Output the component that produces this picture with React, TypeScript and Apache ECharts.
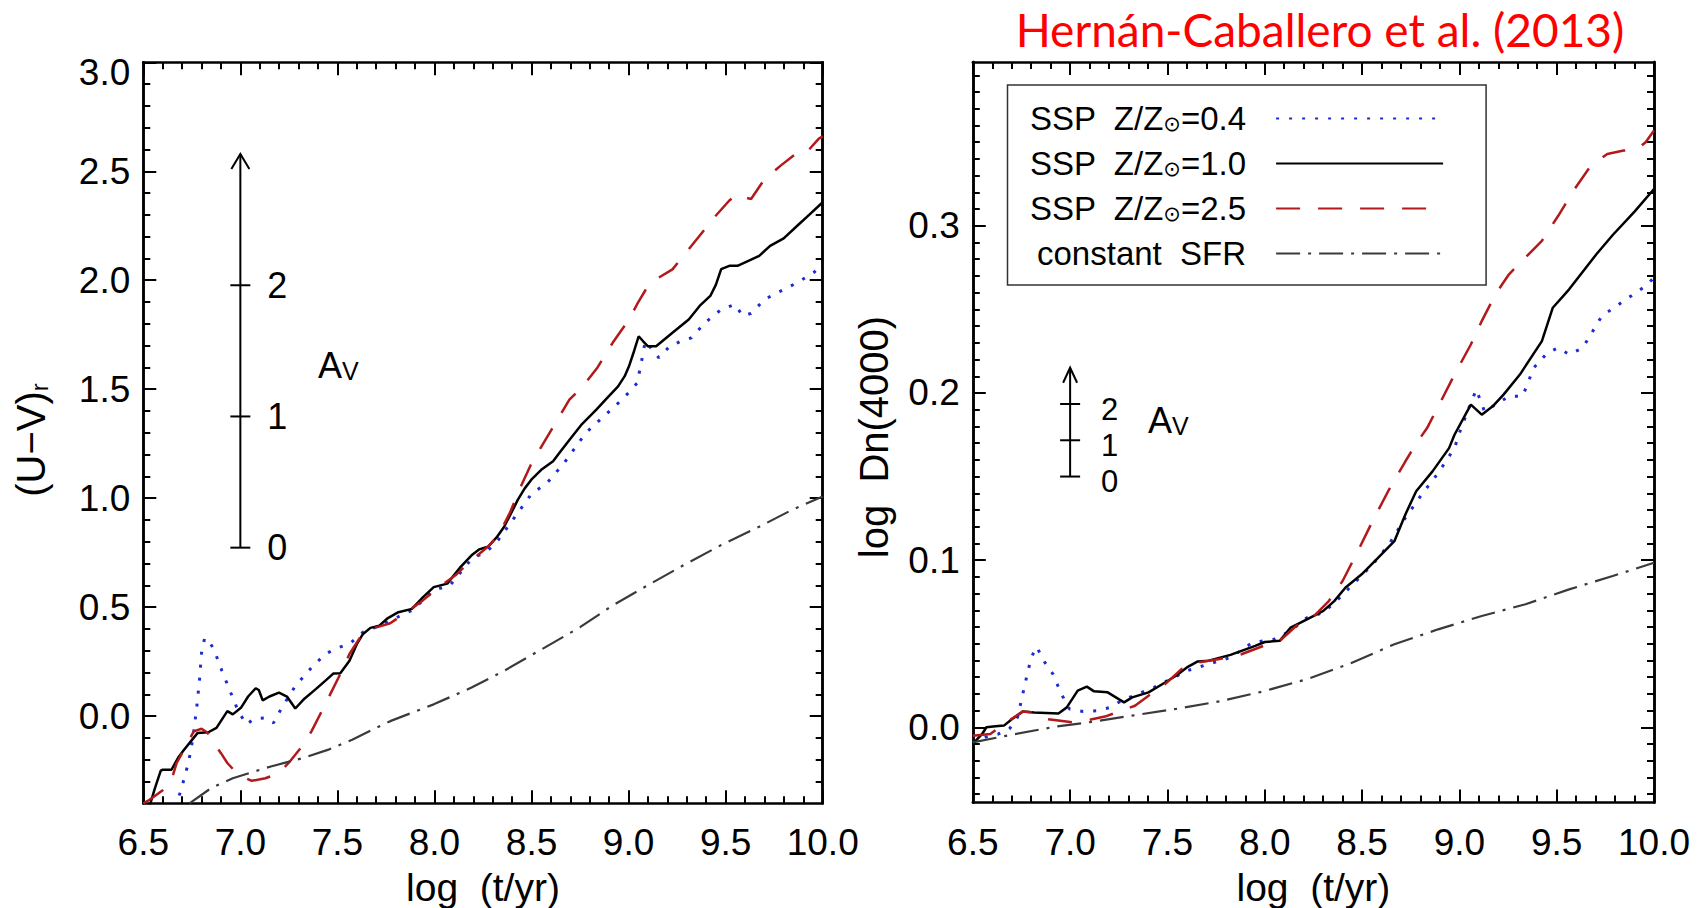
import React, { useEffect, useRef } from "react";
import * as echarts from "echarts";

// ---------- axes ----------
const xMin = 6.5;
const xMax = 10.0;
const uvMin = -0.4;
const uvMax = 3.0;
const dnMin = -0.045;
const dnMax = 0.398;
const uvMajorTicks = [0.0, 0.5, 1.0, 1.5, 2.0, 2.5, 3.0];
const dnMajorTicks = [0.0, 0.1, 0.2, 0.3];
const uvMinorTicks = Array.from({ length: 34 }, (_, i) => +(-0.3 + i * 0.1).toFixed(2));
const dnMinorTicks = Array.from({ length: 44 }, (_, i) => +(-0.04 + i * 0.01).toFixed(3));

// ---------- legend names ----------
const seriesNames = ["SSP Z/Z⊙=0.4", "SSP Z/Z⊙=1.0", "SSP Z/Z⊙=2.5", "constant SFR"];
const legendLabels = [
  "{m|SSP  Z/Z}{s|⊙}{m|=0.4}",
  "{m|SSP  Z/Z}{s|⊙}{m|=1.0}",
  "{m|SSP  Z/Z}{s|⊙}{m|=2.5}",
  "{m|constant  SFR}",
];

// ---------- left panel: (U-V)r ----------
const uvZ04 = [
  [6.66, -0.42], [6.693, -0.345], [6.711, -0.284], [6.732, -0.215], [6.746, -0.152], [6.758, -0.083],
  [6.775, 0.038], [6.79, 0.17], [6.8, 0.29], [6.816, 0.358], [6.84, 0.34], [6.863, 0.308], [6.905, 0.208],
  [6.947, 0.115], [6.989, 0.023], [7.031, -0.038], [7.073, -0.011], [7.129, -0.008], [7.171, -0.031],
  [7.213, 0.038], [7.283, 0.138], [7.367, 0.223], [7.437, 0.285], [7.506, 0.315], [7.562, 0.331],
  [7.632, 0.385], [7.716, 0.415], [7.8, 0.45], [7.884, 0.485], [7.996, 0.577], [8.08, 0.6], [8.19, 0.72],
  [8.275, 0.76], [8.33, 0.81], [8.415, 0.915], [8.5, 1.02], [8.58, 1.07], [8.667, 1.16], [8.778, 1.298],
  [8.89, 1.39], [8.974, 1.459], [9.044, 1.528], [9.065, 1.62], [9.086, 1.72], [9.114, 1.69], [9.156, 1.644],
  [9.212, 1.697], [9.268, 1.72], [9.324, 1.736], [9.394, 1.805], [9.477, 1.866], [9.547, 1.889],
  [9.589, 1.836], [9.631, 1.848], [9.701, 1.912], [9.785, 1.951], [9.869, 1.989], [9.953, 2.035], [10.0, 2.07],
];
const uvZ10 = [
  [6.53, -0.42], [6.56, -0.33], [6.59, -0.25], [6.6, -0.246], [6.645, -0.246], [6.68, -0.19], [6.71, -0.154],
  [6.75, -0.11], [6.78, -0.077], [6.835, -0.074], [6.877, -0.054], [6.933, 0.023], [6.961, 0.008],
  [7.003, 0.038], [7.04, 0.09], [7.079, 0.128], [7.095, 0.12], [7.115, 0.072], [7.15, 0.09], [7.199, 0.108],
  [7.24, 0.09], [7.283, 0.035], [7.33, 0.08], [7.39, 0.125], [7.437, 0.162], [7.48, 0.196], [7.515, 0.197],
  [7.562, 0.254], [7.6, 0.33], [7.632, 0.377], [7.67, 0.405], [7.716, 0.415], [7.76, 0.45], [7.814, 0.477],
  [7.884, 0.492], [7.94, 0.545], [7.996, 0.592], [8.066, 0.608], [8.13, 0.68], [8.191, 0.738], [8.23, 0.765],
  [8.275, 0.777], [8.32, 0.82], [8.359, 0.869], [8.4, 0.94], [8.429, 0.992], [8.465, 1.045], [8.499, 1.085],
  [8.55, 1.13], [8.611, 1.169], [8.65, 1.215], [8.695, 1.267], [8.76, 1.34], [8.834, 1.406], [8.89, 1.46],
  [8.946, 1.513], [8.98, 1.56], [9.002, 1.605], [9.03, 1.68], [9.052, 1.743], [9.075, 1.72], [9.1, 1.697],
  [9.142, 1.697], [9.226, 1.759], [9.31, 1.82], [9.366, 1.882], [9.421, 1.928], [9.45, 1.98], [9.477, 2.051],
  [9.519, 2.066], [9.561, 2.066], [9.62, 2.09], [9.673, 2.112], [9.729, 2.158], [9.799, 2.192],
  [9.869, 2.25], [9.93, 2.3], [10.0, 2.358],
];
const uvZ25 = [
  [6.5, -0.4], [6.53, -0.385], [6.57, -0.36], [6.6, -0.34], [6.646, -0.29], [6.672, -0.215], [6.7, -0.17],
  [6.73, -0.12], [6.76, -0.07], [6.8, -0.058], [6.83, -0.075], [6.863, -0.123], [6.9, -0.17], [6.933, -0.215],
  [6.989, -0.269], [7.059, -0.297], [7.129, -0.285], [7.199, -0.262], [7.255, -0.208], [7.311, -0.146],
  [7.367, -0.069], [7.437, 0.054], [7.506, 0.177], [7.562, 0.285], [7.618, 0.362], [7.674, 0.4],
  [7.772, 0.426], [7.856, 0.477], [7.94, 0.531], [8.024, 0.592], [8.108, 0.646], [8.19, 0.715],
  [8.275, 0.777], [8.33, 0.83], [8.387, 0.93], [8.443, 1.05], [8.5, 1.16], [8.6, 1.31], [8.695, 1.452],
  [8.764, 1.513], [8.84, 1.6], [8.918, 1.713], [9.002, 1.82], [9.05, 1.9], [9.1, 1.974], [9.156, 2.012],
  [9.226, 2.05], [9.31, 2.143], [9.394, 2.235], [9.449, 2.296], [9.519, 2.366], [9.561, 2.396], [9.6, 2.38],
  [9.631, 2.373], [9.701, 2.465], [9.785, 2.527], [9.855, 2.576], [9.897, 2.573], [9.93, 2.6], [9.98, 2.65],
  [10.0, 2.66],
];
const uvSFR = [
  [6.738, -0.4], [6.85, -0.33], [6.961, -0.285], [7.157, -0.231], [7.325, -0.192], [7.45, -0.155],
  [7.576, -0.108], [7.772, -0.023], [7.996, 0.054], [8.191, 0.131], [8.359, 0.208], [8.555, 0.308],
  [8.75, 0.408], [8.918, 0.508], [9.114, 0.608], [9.282, 0.692], [9.477, 0.785], [9.673, 0.869],
  [9.841, 0.946], [10.0, 1.008],
];

// ---------- right panel: log Dn(4000) ----------
const dnZ04 = [
  [6.5, -0.009], [6.562, -0.006], [6.632, -0.004], [6.688, -0.001], [6.73, 0.006], [6.772, 0.0278],
  [6.8, 0.0417], [6.828, 0.0481], [6.87, 0.0388], [6.912, 0.0318], [6.955, 0.0199], [6.997, 0.0109],
  [7.067, 0.0095], [7.137, 0.0099], [7.207, 0.0119], [7.263, 0.0159], [7.347, 0.0199], [7.432, 0.0239],
  [7.516, 0.0288], [7.6, 0.0338], [7.712, 0.0378], [7.824, 0.0417], [7.937, 0.0507], [8.049, 0.0527],
  [8.133, 0.0577], [8.217, 0.0656], [8.301, 0.0686], [8.385, 0.0775], [8.47, 0.0875], [8.554, 0.0974],
  [8.638, 0.1093], [8.722, 0.1252], [8.806, 0.1392], [8.891, 0.1521], [8.975, 0.167], [9.003, 0.177],
  [9.045, 0.19], [9.087, 0.202], [9.129, 0.189], [9.185, 0.193], [9.255, 0.198], [9.325, 0.198],
  [9.382, 0.215], [9.452, 0.224], [9.508, 0.227], [9.564, 0.223], [9.634, 0.227], [9.732, 0.246],
  [9.844, 0.255], [9.957, 0.264], [10.0, 0.269],
];
const dnZ10 = [
  [6.5, -0.0099], [6.548, -0.004], [6.57, 0.0], [6.604, 0.0004], [6.66, 0.001], [6.702, 0.005],
  [6.758, 0.0095], [6.814, 0.0089], [6.94, 0.0083], [6.983, 0.0119], [7.039, 0.0219], [7.086, 0.0243],
  [7.123, 0.0215], [7.193, 0.0209], [7.235, 0.0179], [7.277, 0.0149], [7.319, 0.0179], [7.403, 0.0209],
  [7.488, 0.0268], [7.544, 0.0308], [7.6, 0.0358], [7.656, 0.0394], [7.712, 0.0398], [7.824, 0.0433],
  [7.951, 0.0487], [8.0, 0.051], [8.077, 0.0517], [8.133, 0.0596], [8.217, 0.0646], [8.301, 0.0696],
  [8.357, 0.0755], [8.414, 0.0835], [8.498, 0.0915], [8.582, 0.1014], [8.666, 0.1113], [8.722, 0.1272],
  [8.778, 0.1412], [8.862, 0.1531], [8.947, 0.167], [8.975, 0.175], [9.059, 0.193], [9.115, 0.187],
  [9.171, 0.192], [9.227, 0.199], [9.311, 0.211], [9.424, 0.231], [9.48, 0.251], [9.564, 0.262],
  [9.704, 0.283], [9.788, 0.2945], [9.9, 0.3085], [10.0, 0.322],
];
const dnZ25 = [
  [6.5, -0.005], [6.59, -0.004], [6.674, 0.003], [6.758, 0.0095], [6.8, 0.009], [6.87, 0.005], [6.94, 0.004],
  [7.01, 0.003], [7.095, 0.0044], [7.179, 0.0064], [7.263, 0.0099], [7.333, 0.0129], [7.403, 0.0189],
  [7.488, 0.0258], [7.572, 0.0348], [7.656, 0.0388], [7.768, 0.0408], [7.88, 0.0437], [7.993, 0.0487],
  [8.077, 0.0517], [8.161, 0.0606], [8.245, 0.0656], [8.329, 0.0755], [8.4, 0.0875], [8.47, 0.1034],
  [8.554, 0.1233], [8.638, 0.1421], [8.722, 0.159], [8.78, 0.17], [8.834, 0.179], [8.905, 0.195],
  [8.975, 0.211], [9.059, 0.229], [9.115, 0.243], [9.185, 0.259], [9.255, 0.271], [9.339, 0.281],
  [9.424, 0.291], [9.508, 0.306], [9.592, 0.322], [9.676, 0.336], [9.76, 0.343], [9.844, 0.345],
  [9.915, 0.346], [9.957, 0.35], [10.0, 0.357],
];
const dnSFR = [
  [6.5, -0.009], [6.702, -0.0044], [6.926, 0.0004], [7.123, 0.0034], [7.319, 0.007], [7.544, 0.011],
  [7.768, 0.0155], [7.993, 0.0215], [8.217, 0.0288], [8.441, 0.0382], [8.666, 0.0497], [8.891, 0.0586],
  [9.115, 0.0666], [9.34, 0.0736], [9.564, 0.0825], [9.788, 0.0905], [10.0, 0.0984],
];

// ---------- A_V arrows ----------
const avTickValues = [0, 1, 2];
const avTickLabels = ["0", "1", "2"];
const avTipValue = 3;
const uvArrow = [[7.0, 0.773, 0.602]]; // x, base (A_V=0), step per magnitude
const dnArrow = [[7.0, 0.15, 0.0217]];

const FONT = "Liberation Sans";

const lineStyles = [
  { color: "#1d2bd0", width: 3, type: [3, 10] },
  { color: "#000000", width: 2.5, type: "solid" },
  { color: "#b3191b", width: 2.5, type: [24, 18] },
  { color: "#3a3a3a", width: 2.2, type: [24, 8, 3, 8] },
];

function lineSeries(name: string, data: number[][], xi: number, yi: number, st: any) {
  return {
    type: "line",
    name,
    data,
    xAxisIndex: xi,
    yAxisIndex: yi,
    symbol: "none",
    showSymbol: false,
    smooth: false,
    clip: true,
    lineStyle: { color: st.color, width: st.width, type: st.type },
    itemStyle: { color: st.color },
    z: 3,
  };
}

function arrowSeries(data: number[][], xi: number, yi: number, headHalf: number, dx: number, dy: number, fs: number) {
  return {
    type: "custom",
    xAxisIndex: xi,
    yAxisIndex: yi,
    data,
    clip: false,
    silent: true,
    z: 4,
    renderItem: (params: any, api: any) => {
      const x = api.value(0);
      const base = api.value(1);
      const step = api.value(2);
      const p0 = api.coord([x, base]);
      const pt = api.coord([x, base + avTipValue * step]);
      const children: any[] = [
        { type: "line", shape: { x1: p0[0], y1: p0[1], x2: pt[0], y2: pt[1] }, style: { stroke: "#000", lineWidth: 2 } },
        {
          type: "polyline",
          shape: { points: [[pt[0] - headHalf, pt[1] + 15], [pt[0], pt[1]], [pt[0] + headHalf, pt[1] + 15]] },
          style: { stroke: "#000", fill: null, lineWidth: 2 },
        },
      ];
      avTickValues.forEach((t, i) => {
        const p = api.coord([x, base + t * step]);
        children.push({ type: "line", shape: { x1: p[0] - 10, y1: p[1], x2: p[0] + 10, y2: p[1] }, style: { stroke: "#000", lineWidth: 2 } });
        children.push({
          type: "text",
          x: p[0] + dx,
          y: p[1] + dy,
          style: {
            text: avTickLabels[i],
            fontSize: fs,
            lineHeight: 30,
            fontFamily: FONT,
            fill: "#000",
            textAlign: "left",
            textVerticalAlign: "middle",
          },
        });
      });
      return { type: "group", children };
    },
  };
}

function xAxes(gridIndex: number) {
  const common = {
    gridIndex,
    type: "value",
    min: xMin,
    max: xMax,
    interval: 0.5,
    splitLine: { show: false },
    axisLine: { show: true, onZero: false, lineStyle: { color: "#000", width: 2.5 } },
    axisTick: { show: true, inside: true, length: 13, lineStyle: { color: "#000", width: 2 } },
    minorTick: { show: true, splitNumber: 5, length: 7, lineStyle: { color: "#000", width: 2 } },
    minorSplitLine: { show: false },
  };
  return [
    {
      ...common,
      position: "bottom",
      axisLabel: { show: true, margin: 21, fontSize: 37, fontFamily: FONT, color: "#000", formatter: (v: number) => v.toFixed(1) },
      name: "log  (t/yr)",
      nameLocation: "middle",
      nameGap: 65,
      nameTextStyle: { fontSize: 39, fontFamily: FONT, color: "#000" },
    },
    { ...common, position: "top", axisLabel: { show: false } },
  ];
}

function yAxes(gridIndex: number, min: number, max: number, major: number[], minor: number[], digits: number) {
  const base = {
    gridIndex,
    type: "value",
    min,
    max,
    splitLine: { show: false },
    axisLine: { show: true, onZero: false, lineStyle: { color: "#000", width: 2.5 } },
  };
  const majorTick = { show: true, inside: true, length: 13, customValues: major, lineStyle: { color: "#000", width: 2 } };
  const minorTick = { show: true, inside: true, length: 7, customValues: minor, lineStyle: { color: "#000", width: 2 } };
  return [
    {
      ...base,
      position: "left",
      axisTick: majorTick,
      axisLabel: {
        show: true,
        customValues: major,
        margin: 13,
        fontSize: 37,
        fontFamily: FONT,
        color: "#000",
        formatter: (v: number) => (v >= max - 1e-6 ? "{top|" + v.toFixed(digits) + "}" : v.toFixed(digits)),
        rich: { top: { fontSize: 37, fontFamily: FONT, color: "#000", padding: [20, 0, 0, 0] } },
      },
    },
    { ...base, position: "left", axisTick: minorTick, axisLabel: { show: false } },
    { ...base, position: "right", axisTick: majorTick, axisLabel: { show: false } },
    { ...base, position: "right", axisTick: minorTick, axisLabel: { show: false } },
  ];
}

export default function App() {
  const ref = useRef<HTMLDivElement>(null);

  useEffect(() => {
    if (!ref.current) return;
    const chart = echarts.init(ref.current, null, { renderer: "svg" });
    const uvSeries = [uvZ04, uvZ10, uvZ25, uvSFR];
    const dnSeries = [dnZ04, dnZ10, dnZ25, dnSFR];
    const series: any[] = [];
    uvSeries.forEach((d, i) => series.push(lineSeries(seriesNames[i], d, 0, 0, lineStyles[i])));
    dnSeries.forEach((d, i) => series.push(lineSeries(seriesNames[i], d, 2, 4, lineStyles[i])));
    series.push(arrowSeries(uvArrow, 0, 0, 9, 27, 0, 36));
    series.push(arrowSeries(dnArrow, 2, 4, 7, 31, 5, 31));

    const avRich = {
      a: { fontSize: 36, fontFamily: FONT, fill: "#000", lineHeight: 36 },
      v: { fontSize: 25, fontFamily: FONT, fill: "#000", lineHeight: 10, verticalAlign: "bottom" },
    };

    const option: any = {
      animation: false,
      backgroundColor: "#ffffff",
      grid: [
        { left: 143.3, top: 62.3, width: 679.4, height: 741, containLabel: false, outerBoundsMode: "none" },
        { left: 972.8, top: 62, width: 681.2, height: 740.5, containLabel: false, outerBoundsMode: "none" },
      ],
      xAxis: [...xAxes(0), ...xAxes(1)],
      yAxis: [
        ...yAxes(0, uvMin, uvMax, uvMajorTicks, uvMinorTicks, 1),
        ...yAxes(1, dnMin, dnMax, dnMajorTicks, dnMinorTicks, 1),
      ],
      legend: {
        show: true,
        left: 1007.5,
        top: 85,
        orient: "vertical",
        align: "right",
        itemWidth: 167,
        itemHeight: 30,
        itemGap: 12,
        padding: [17, 42, 15, 22],
        borderColor: "#333",
        borderWidth: 1.5,
        selectedMode: false,
        data: seriesNames,
        itemStyle: { opacity: 0, color: "rgba(0,0,0,0)", borderColor: "rgba(0,0,0,0)", borderWidth: 0 },
        formatter: (name: string) => legendLabels[seriesNames.indexOf(name)],
        textStyle: {
          width: 215,
          align: "right",
          padding: [0, 25, 0, 0],
          lineHeight: 32,
          fontSize: 33,
          fontFamily: FONT,
          color: "#000",
          rich: {
            m: { fontSize: 33, fontFamily: FONT, color: "#000", lineHeight: 32 },
            s: { fontSize: 21, fontFamily: "DejaVu Sans", color: "#000", lineHeight: 1, verticalAlign: "bottom" },
          },
        },
      },
      graphic: [
        {
          type: "text",
          x: 1320,
          y: 29,
          style: {
            text: "Hernán-Caballero et al. (2013)",
            fontSize: 46,
            fontFamily: "Lato",
            fill: "#ff0000",
            textAlign: "center",
            textVerticalAlign: "middle",
          },
        },
        {
          type: "text",
          x: 31,
          y: 440,
          rotation: Math.PI / 2,
          style: {
            text: "{m|(U−V)}{s|r}",
            textAlign: "center",
            textVerticalAlign: "middle",
            rich: {
              m: { fontSize: 40, fontFamily: FONT, fill: "#000", lineHeight: 40 },
              s: { fontSize: 24, fontFamily: FONT, fill: "#000", lineHeight: 14, verticalAlign: "bottom" },
            },
          },
        },
        {
          type: "text",
          x: 874,
          y: 437,
          rotation: Math.PI / 2,
          style: {
            text: "log  Dn(4000)",
            fontSize: 40,
            fontFamily: FONT,
            fill: "#000",
            textAlign: "center",
            textVerticalAlign: "middle",
          },
        },
        {
          type: "text",
          x: 318,
          y: 365,
          style: { text: "{a|A}{v|V}", textAlign: "left", textVerticalAlign: "middle", rich: avRich },
        },
        {
          type: "text",
          x: 1148,
          y: 420,
          style: { text: "{a|A}{v|V}", textAlign: "left", textVerticalAlign: "middle", rich: avRich },
        },
      ],
      series,
    };
    chart.setOption(option);
    return () => chart.dispose();
  }, []);

  return (
    <div
      ref={ref}
      style={{ position: "absolute", left: 0, top: 0, width: 1704, height: 908, background: "#fff" }}
    />
  );
}
